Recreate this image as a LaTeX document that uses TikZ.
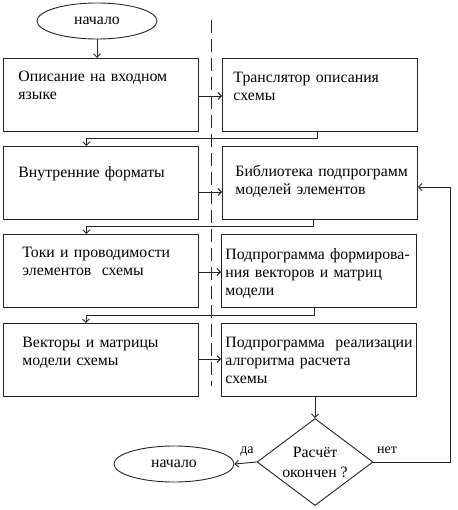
\documentclass[tikz,border=0pt]{standalone}
\usepackage{fontspec}
\setmainfont{Liberation Serif}
\usetikzlibrary{shapes.geometric,arrows.meta}
\begin{document}
\begin{tikzpicture}[x=1pt,y=-1pt,line width=0.9pt,
  box/.style={draw=black!85, rectangle, anchor=north west, minimum width=195pt, minimum height=73pt, inner sep=0pt},
  txt/.style={anchor=base west, text width=205pt, align=left, inner sep=0pt, font=\fontsize{15.8}{18}\selectfont},
  oval/.style={draw=black!85, ellipse, minimum width=120pt, minimum height=36pt, inner sep=0pt, font=\fontsize{15.8}{18}\selectfont},
  decision/.style={draw=black!85, diamond, aspect=1.333, minimum width=116pt, minimum height=87pt, inner sep=0pt, align=center, font=\fontsize{15.8}{20}\selectfont},
  lbl/.style={inner sep=0pt, font=\fontsize{14}{16}\selectfont},
  arr/.style={draw=black!85, -{Straight Barb[length=3.5pt,width=7pt]}},
  divider/.style={draw=black!85, dash pattern=on 13pt off 6pt}]
\useasboundingbox (0,0) rectangle (457,510);
% start
\node[oval] (E1) at (97,21) {начало};
% left column
\node[box] (L1) at (3,58) {};
\node[box] (L2) at (3,146) {};
\node[box] (L3) at (3,234) {};
\node[box] (L4) at (3,323) {};
% right column
\node[box] (R1) at (222,58) {};
\node[box] (R2) at (222,146) {};
\node[box] (R3) at (221,234) {};
\node[box] (R4) at (221,323) {};
% texts
\node[txt] (tL1) at (18,82) {Описание на входном\\языке};
\node[txt] (tL2) at (18,178) {Внутренние форматы};
\node[txt] (tL3) at (22,257) {Токи и проводимости\\элементов\ \ схемы};
\node[txt] (tL4) at (22,347) {Векторы и матрицы\\модели схемы};
\node[txt] (tR1) at (233,83) {Транслятор описания\\схемы};
\node[txt] (tR2) at (235,177) {Библиотека подпрограмм\\моделей элементов};
\node[txt] (tR3) at (225,259) {Подпрограмма формирова-\\ния векторов и матриц\\модели};
\node[txt] (tR4) at (225,347) {Подпрограмма\ \ реализации\\алгоритма расчета\\схемы};
% decision and end
\node[decision] (D) at (315,462) {Расчёт\\окончен ?};
\node[oval] (E2) at (174,464) {начало};
% dashed divider
\coordinate (dv1) at (211,20);
\coordinate (dv2) at (211,386);
\draw[divider] (dv1) -- (dv2);
% connectors
\draw[arr] (E1.south) -- (E1.south |- L1.north);
\draw[arr] ([yshift=-38pt]L1.north east) -- ([yshift=-38pt]R1.north west);
\draw[arr] ([yshift=-46pt]L2.north east) -- ([yshift=-46pt]R2.north west);
\draw[arr] ([yshift=-38pt]L3.north east) -- ([yshift=-38pt]R3.north west);
\draw[arr] ([yshift=-36pt]L4.north east) -- ([yshift=-36pt]R4.north west);
\draw[arr] ([xshift=-3pt]R1.south) -- ++(0,7) -| ([xshift=-14.5pt]L2.north);
\draw[arr] ([xshift=-7pt]R2.south) -- ++(0,7) -| ([xshift=-14.5pt]L3.north);
\draw[arr] ([xshift=-4.5pt]R3.south) -- ++(0,8) -| ([xshift=-15pt]L4.north);
\draw[arr] (D.north |- R4.south) -- (D.north);
\draw[arr] (D.west) -- (E2.east);
\draw[arr] (D.east) -- ++(77,0) |- ([yshift=-41pt]R2.north east);
% labels
\node[lbl] (da) at (247,452) {да};
\node[lbl] (net) at (387,450) {нет};
\end{tikzpicture}
\end{document}
